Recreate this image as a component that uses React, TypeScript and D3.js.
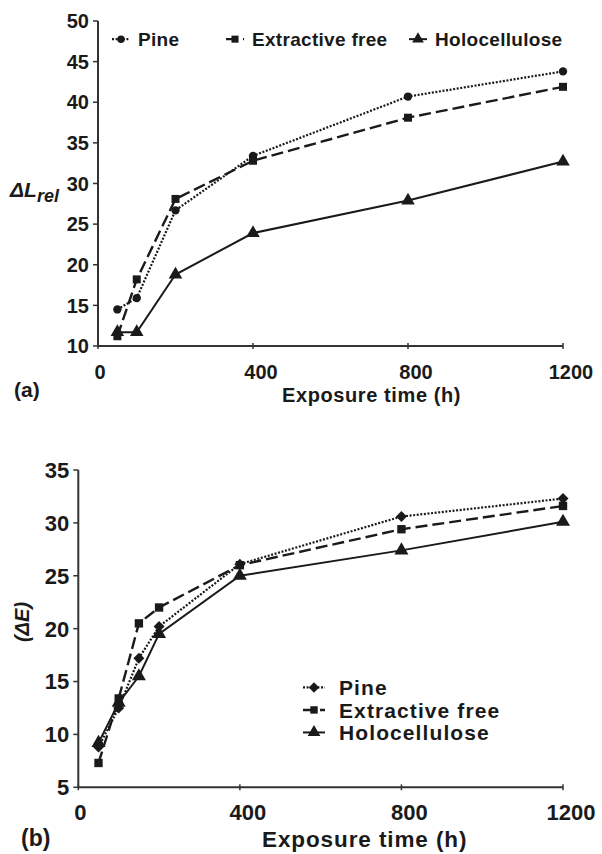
import React from "react";
import * as d3 from "d3";

// ---- Data ----
const seriesNames = ["Pine", "Extractive free", "Holocellulose"];

const hoursA = [50, 100, 200, 400, 800, 1200];
const pineA = [14.5, 15.9, 26.7, 33.4, 40.7, 43.8];
const extractiveA = [11.2, 18.2, 28.1, 32.8, 38.1, 41.9];
const holoA = [11.7, 11.7, 18.8, 23.9, 27.9, 32.7];

const hoursB = [50, 100, 150, 200, 400, 800, 1200];
const pineB = [8.8, 12.5, 17.2, 20.2, 26.1, 30.6, 32.3];
const extractiveB = [7.3, 13.4, 20.5, 22.0, 26.0, 29.4, 31.6];
const holoB = [9.2, 13.0, 15.5, 19.5, 25.0, 27.4, 30.1];

const xTicks = [0, 400, 800, 1200];
const yTicksA = [10, 15, 20, 25, 30, 35, 40, 45, 50];
const yTicksB = [5, 10, 15, 20, 25, 30, 35];

const FONT = "'Liberation Sans', Arial, Helvetica, sans-serif";
const INK = "#1a1a1a";

type Style = { dash: string; width: number; marker: "circle" | "square" | "triangle" | "diamond" };

function markerPath(kind: string, size: number) {
  if (kind === "circle") return d3.symbol().type(d3.symbolCircle).size(size)()!;
  if (kind === "square") return d3.symbol().type(d3.symbolSquare).size(size)()!;
  if (kind === "triangle") return d3.symbol().type(d3.symbolTriangle).size(size)()!;
  return d3.symbol().type(d3.symbolSquare).size(size)()!;
}

function Marker({ x, y, kind, size }: { x: number; y: number; kind: string; size: number }) {
  const rot = kind === "diamond" ? " rotate(45)" : "";
  return <path d={markerPath(kind, size)} transform={`translate(${x},${y})${rot}`} fill={INK} />;
}

function Panel(props: {
  hours: number[];
  series: number[][];
  styles: Style[];
  x0: number; x1: number; y0: number; y1: number;
  yDomain: [number, number];
  yTicks: number[];
  tickFont: number;
  tickGap: number;
  sizes: number[];
}) {
  const { hours, series, styles, x0, x1, y0, y1, yDomain, yTicks, tickFont, tickGap, sizes } = props;
  const x = d3.scaleLinear().domain([0, 1200]).range([x0, x1]);
  const y = d3.scaleLinear().domain(yDomain).range([y1, y0]);
  const line = d3
    .line<number>()
    .x((_, i) => x(hours[i]))
    .y((d) => y(d));
  return (
    <g>
      {/* axes */}
      <line x1={x0} x2={x0} y1={y0} y2={y1} stroke="#333" strokeWidth={2} />
      <line x1={x0} x2={x1} y1={y1} y2={y1} stroke="#333" strokeWidth={2} />
      {yTicks.map((t) => (
        <g key={"y" + t}>
          <line x1={x0 - 5} x2={x0} y1={y(t)} y2={y(t)} stroke="#333" strokeWidth={1.5} />
          <text
            x={x0 - 9}
            y={y(t)}
            dy="0.36em"
            textAnchor="end"
            fontFamily={FONT}
            fontWeight="bold"
            fontSize={tickFont}
            fill={INK}
          >
            {t}
          </text>
        </g>
      ))}
      {xTicks.map((t) => (
        <g key={"x" + t}>
          <line x1={x(t)} x2={x(t)} y1={y1 - 3} y2={y1 + 3} stroke="#333" strokeWidth={1.5} />
          <text
            x={x(t) + (t === 0 ? 2 : 8)}
            y={y1 + tickGap}
            textAnchor="middle"
            fontFamily={FONT}
            fontWeight="bold"
            fontSize={tickFont}
            fill={INK}
          >
            {t}
          </text>
        </g>
      ))}
      {/* series */}
      {series.map((vals, si) => (
        <g key={"s" + si}>
          <path
            d={line(vals)!}
            fill="none"
            stroke={INK}
            strokeWidth={styles[si].width}
            strokeDasharray={styles[si].dash}
          />
          {vals.map((v, i) => (
            <Marker key={i} x={x(hours[i])} y={y(v)} kind={styles[si].marker} size={sizes[si]} />
          ))}
        </g>
      ))}
    </g>
  );
}

function LegendItem(props: {
  x: number; y: number; label: string; style: Style; size: number; fontSize: number; spacing: number; len: number; gap: number;
}) {
  const { x, y, label, style, size, fontSize, spacing, len, gap } = props;
  return (
    <g>
      <line
        x1={x}
        x2={x + len}
        y1={y - fontSize * 0.36}
        y2={y - fontSize * 0.36}
        stroke={INK}
        strokeWidth={style.width}
        strokeDasharray={style.dash}
      />
      <Marker x={x + len / 2} y={y - fontSize * 0.36} kind={style.marker} size={size} />
      <text
        x={x + len + gap}
        y={y}
        fontFamily={FONT}
        fontWeight="bold"
        fontSize={fontSize}
        letterSpacing={spacing}
        fill={INK}
      >
        {label}
      </text>
    </g>
  );
}

export default function App() {
  const stylesA: Style[] = [
    { dash: "2,1.6", width: 2.2, marker: "circle" },
    { dash: "12,5", width: 2.4, marker: "square" },
    { dash: "", width: 2, marker: "triangle" },
  ];
  const stylesB: Style[] = [
    { dash: "2,1.6", width: 2.2, marker: "diamond" },
    { dash: "12,5", width: 2.4, marker: "square" },
    { dash: "", width: 2, marker: "triangle" },
  ];
  const legendAX = [112, 226, 409];
  return (
    <svg
      width={602}
      height={854}
      viewBox="0 0 602 854"
      style={{ position: "absolute", left: 0, top: 0, background: "#fff" }}
    >
      <rect x={0} y={0} width={602} height={854} fill="#fff" />
      {/* ---- Panel (a) ---- */}
      <Panel
        hours={hoursA}
        series={[pineA, extractiveA, holoA]}
        styles={stylesA}
        x0={98}
        x1={563}
        y0={21}
        y1={346}
        yDomain={[10, 50]}
        yTicks={yTicksA}
        tickFont={20}
        tickGap={33}
        sizes={[55, 64, 80]}
      />
      {seriesNames.map((n, i) => (
        <LegendItem
          key={"la" + i}
          x={legendAX[i]}
          y={46}
          label={n}
          style={stylesA[i]}
          size={[45, 50, 60][i]}
          fontSize={19}
          spacing={0.3}
          len={18}
          gap={8}
        />
      ))}
      <text x={10} y={197} fontFamily={FONT} fontWeight="bold" fontStyle="italic" fontSize={21} fill={INK}>
        ΔL
        <tspan fontSize={18} dy={5}>rel</tspan>
      </text>
      <text x={14} y={397} fontFamily={FONT} fontWeight="bold" fontSize={21} fill={INK}>
        (a)
      </text>
      <text x={282} y={402} fontFamily={FONT} fontWeight="bold" fontSize={20} letterSpacing={0.6} fill={INK}>
        Exposure time (h)
      </text>

      {/* ---- Panel (b) ---- */}
      <Panel
        hours={hoursB}
        series={[pineB, extractiveB, holoB]}
        styles={stylesB}
        x0={78.3}
        x1={563}
        y0={470}
        y1={787.3}
        yDomain={[5, 35]}
        yTicks={yTicksB}
        tickFont={22}
        tickGap={33}
        sizes={[60, 70, 85]}
      />
      {seriesNames.map((n, i) => (
        <LegendItem
          key={"lb" + i}
          x={303}
          y={695 + i * 22.5}
          label={n}
          style={stylesB[i]}
          size={[55, 55, 70][i]}
          fontSize={21}
          spacing={1.1}
          len={22}
          gap={14}
        />
      ))}
      <text
        transform="translate(29,622) rotate(-90)"
        textAnchor="middle"
        fontFamily={FONT}
        fontWeight="bold"
        fontStyle="italic"
        fontSize={20}
        fill={INK}
      >
        (ΔE)
      </text>
      <text x={21} y={846} fontFamily={FONT} fontWeight="bold" fontSize={23} fill={INK}>
        (b)
      </text>
      <text x={262} y={847} fontFamily={FONT} fontWeight="bold" fontSize={22.5} letterSpacing={0.9} fill={INK}>
        Exposure time (h)
      </text>
    </svg>
  );
}
